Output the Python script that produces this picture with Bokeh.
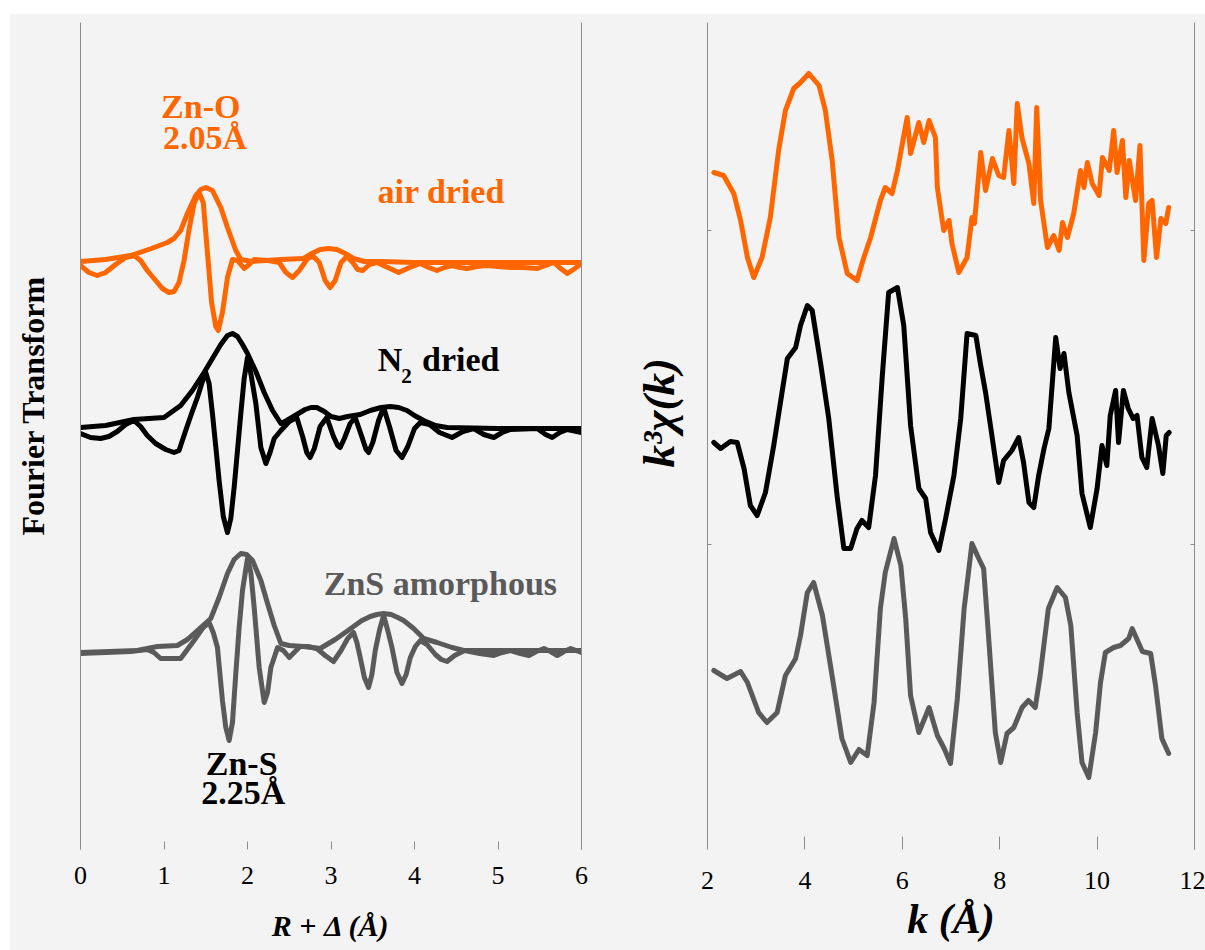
import numpy as np
from bokeh.plotting import figure
from bokeh.layouts import row
from bokeh.models import Range1d, FixedTicker, LinearAxis, CustomJSTickFormatter, Title
from bokeh.core.properties import value
from bokeh.embed import file_html
from bokeh.resources import INLINE

# ---------------- data: Fourier transforms (left panel) ----------------
# R + delta (Angstrom); magnitude and imaginary part, arbitrary units
air_mag_R = [0.0, 0.3, 0.6, 0.85, 1.04, 1.12, 1.2, 1.28, 1.38, 1.44, 1.50, 1.58, 1.68, 1.76,
             1.86, 1.92, 2.05, 2.4, 2.67, 2.77, 2.87, 2.97, 3.07, 3.17, 3.27, 3.4, 3.6, 4.0,
             5.0, 6.0]
air_mag = [0.01, 0.03, 0.07, 0.14, 0.20, 0.24, 0.32, 0.49, 0.67, 0.73, 0.75, 0.72, 0.55, 0.35,
           0.12, 0.03, 0.01, 0.03, 0.04, 0.09, 0.13, 0.14, 0.13, 0.09, 0.04, 0.01, 0.01, 0.0,
           0.0, 0.0]
air_im_R = [0.0, 0.1, 0.2, 0.3, 0.42, 0.54, 0.64, 0.72, 0.80, 0.90, 0.98, 1.06, 1.12, 1.18,
            1.24, 1.30, 1.36, 1.42, 1.47, 1.52, 1.57, 1.62, 1.65, 1.70, 1.76, 1.82, 1.88, 1.96,
            2.02, 2.08, 2.25, 2.38, 2.46, 2.54, 2.62, 2.72, 2.79, 2.86, 2.93, 2.99, 3.05, 3.12,
            3.19, 3.26, 3.32, 3.38, 3.46, 3.55, 3.68, 3.81, 3.94, 4.07, 4.17, 4.27, 4.36, 4.45,
            4.55, 4.63, 4.75, 4.87, 5.0, 5.15, 5.30, 5.47, 5.57, 5.67, 5.75, 5.83, 5.92, 6.0]
air_im = [-0.03, -0.10, -0.13, -0.10, -0.02, 0.05, 0.07, 0.02, -0.08, -0.18, -0.26, -0.30,
          -0.29, -0.20, 0.02, 0.33, 0.59, 0.70, 0.60, 0.10, -0.40, -0.64, -0.68, -0.50, -0.15,
          0.03, 0.02, -0.06, -0.02, 0.03, 0.02, 0.0, -0.10, -0.15, -0.08, 0.04, 0.06, 0.0,
          -0.18, -0.25, -0.18, 0.0, 0.06, 0.0, -0.07, -0.08, -0.02, 0.0, -0.05, -0.10, -0.05,
          -0.01, -0.05, -0.08, -0.05, -0.03, -0.05, -0.06, -0.04, -0.03, -0.04, -0.05, -0.05,
          -0.06, -0.03, 0.0, -0.06, -0.11, -0.06, -0.01]

n2_mag_R = [0.0, 0.3, 0.64, 1.0, 1.2, 1.34, 1.48, 1.58, 1.68, 1.76, 1.82, 1.88, 1.94, 2.0, 2.1,
            2.2, 2.3, 2.4, 2.47, 2.55, 2.69, 2.76, 2.83, 2.92, 3.0, 3.1, 3.2, 3.35, 3.47, 3.6,
            3.71, 3.81, 3.91, 4.0, 4.11, 4.25, 4.39, 5.0, 6.0]
n2_mag = [0.01, 0.03, 0.09, 0.11, 0.23, 0.38, 0.56, 0.70, 0.84, 0.93, 0.95, 0.92, 0.84, 0.75,
          0.57, 0.36, 0.18, 0.05, 0.08, 0.12, 0.19, 0.21, 0.21, 0.17, 0.12, 0.10, 0.12, 0.14,
          0.18, 0.21, 0.22, 0.21, 0.18, 0.13, 0.08, 0.03, 0.01, 0.0, 0.0]
n2_im_R = [0.0, 0.12, 0.24, 0.34, 0.44, 0.54, 0.64, 0.72, 0.80, 0.90, 1.02, 1.12, 1.18, 1.26,
           1.33, 1.40, 1.46, 1.50, 1.54, 1.58, 1.62, 1.66, 1.71, 1.76, 1.80, 1.84, 1.88, 1.92,
           1.96, 2.00, 2.04, 2.10, 2.16, 2.22, 2.27, 2.32, 2.40, 2.50, 2.59, 2.66, 2.71, 2.75,
           2.80, 2.87, 2.95, 3.03, 3.08, 3.11, 3.16, 3.23, 3.29, 3.36, 3.42, 3.45, 3.50, 3.57,
           3.63, 3.70, 3.78, 3.85, 3.92, 4.00, 4.07, 4.18, 4.30, 4.45, 4.58, 4.71, 4.83, 4.95,
           5.05, 5.15, 5.47, 5.57, 5.65, 5.74, 5.83, 6.0]
n2_im = [-0.05, -0.09, -0.10, -0.08, -0.03, 0.04, 0.08, 0.02, -0.07, -0.15, -0.21, -0.24,
         -0.22, -0.02, 0.15, 0.31, 0.47, 0.56, 0.45, 0.15, -0.18, -0.52, -0.88, -1.04, -0.90,
         -0.59, -0.22, 0.15, 0.50, 0.71, 0.55, 0.25, -0.19, -0.35, -0.24, -0.10, -0.02, 0.07,
         0.11, -0.08, -0.24, -0.29, -0.20, 0.02, 0.11, -0.08, -0.17, -0.19, -0.10, 0.05, 0.11,
         -0.06, -0.21, -0.24, -0.14, 0.08, 0.21, 0.02, -0.22, -0.29, -0.18, 0.0, 0.06, 0.04,
         -0.04, -0.09, -0.03, 0.0, -0.06, -0.09, -0.04, -0.01, 0.0, -0.06, -0.09, -0.04, -0.01,
         -0.04]

zns_mag_R = [0.0, 0.68, 0.92, 1.16, 1.28, 1.40, 1.56, 1.66, 1.76, 1.84, 1.92, 1.99, 2.06, 2.16,
             2.24, 2.32, 2.40, 2.5, 2.67, 2.87, 3.05, 3.17, 3.27, 3.37, 3.47, 3.55, 3.63, 3.72,
             3.80, 3.87, 3.99, 4.11, 4.27, 4.45, 4.59, 5.0, 6.0]
zns_mag = [0.0, 0.02, 0.06, 0.07, 0.13, 0.22, 0.34, 0.55, 0.79, 0.93, 0.99, 0.98, 0.92, 0.72,
           0.49, 0.27, 0.09, 0.07, 0.06, 0.04, 0.13, 0.20, 0.26, 0.32, 0.36, 0.38, 0.39, 0.38,
           0.35, 0.32, 0.24, 0.14, 0.10, 0.05, 0.02, 0.02, 0.02]
zns_im_R = [0.0, 0.6, 0.8, 0.88, 0.96, 1.10, 1.20, 1.28, 1.36, 1.46, 1.54, 1.59, 1.64, 1.70,
            1.74, 1.78, 1.82, 1.86, 1.90, 1.94, 2.0, 2.04, 2.08, 2.14, 2.20, 2.24, 2.28, 2.36,
            2.43, 2.50, 2.57, 2.63, 2.72, 2.83, 2.93, 3.03, 3.12, 3.20, 3.27, 3.31, 3.35, 3.40,
            3.45, 3.49, 3.53, 3.58, 3.63, 3.68, 3.73, 3.79, 3.85, 3.90, 3.95, 4.01, 4.07, 4.15,
            4.25, 4.32, 4.39, 4.48, 4.60, 4.78, 4.95, 5.05, 5.15, 5.27, 5.37, 5.46, 5.55, 5.63,
            5.71, 5.79, 5.87, 6.0]
zns_im = [-0.01, 0.01, 0.03, 0.0, -0.06, -0.06, -0.06, 0.03, 0.12, 0.24, 0.30, 0.20, 0.05,
          -0.48, -0.75, -0.88, -0.70, -0.21, 0.25, 0.62, 0.94, 0.80, 0.45, -0.15, -0.50, -0.40,
          -0.15, 0.05, 0.02, -0.05, 0.01, 0.06, 0.06, 0.04, -0.03, -0.09, 0.02, 0.14, 0.20,
          0.10, -0.05, -0.25, -0.35, -0.22, 0.02, 0.22, 0.37, 0.22, 0.05, -0.20, -0.31, -0.22,
          -0.05, 0.06, 0.12, 0.08, -0.02, -0.07, -0.09, -0.03, 0.02, -0.01, -0.03, 0.0, 0.02,
          -0.01, -0.03, 0.01, 0.04, 0.01, -0.03, 0.01, 0.04, 0.0]

# ---------------- data: k^3 chi(k) (right panel) ----------------
orange_k = [2.13, 2.33, 2.54, 2.68, 2.82, 2.95, 3.12, 3.29, 3.46, 3.60, 3.77, 3.91, 4.08, 4.29,
            4.42, 4.56, 4.70, 4.87, 5.07, 5.21, 5.35, 5.55, 5.65, 5.79, 5.90, 6.10, 6.17, 6.34,
            6.44, 6.55, 6.68, 6.72, 6.85, 6.96, 7.02, 7.16, 7.33, 7.43, 7.48, 7.61, 7.71, 7.85,
            7.98, 8.08, 8.19, 8.29, 8.36, 8.46, 8.60, 8.70, 8.76, 8.84, 8.98, 9.11, 9.22, 9.29,
            9.39, 9.52, 9.66, 9.73, 9.80, 9.90, 10.04, 10.11, 10.25, 10.34, 10.41, 10.52, 10.59,
            10.66, 10.79, 10.88, 10.96, 11.06, 11.13, 11.22, 11.31, 11.41, 11.47]
orange_chi = [0.28, 0.25, 0.07, -0.20, -0.57, -0.77, -0.57, -0.17, 0.50, 0.90, 1.12, 1.18, 1.27,
              1.15, 0.90, 0.40, -0.37, -0.73, -0.80, -0.57, -0.37, 0.00, 0.13, 0.07, 0.30, 0.83,
              0.47, 0.78, 0.58, 0.80, 0.63, 0.13, -0.30, -0.20, -0.43, -0.72, -0.57, -0.17,
              -0.23, 0.48, 0.10, 0.42, 0.25, 0.23, 0.70, 0.17, 0.97, 0.62, 0.37, -0.03, 0.93,
              0.00, -0.47, -0.35, -0.50, -0.22, -0.37, -0.13, 0.30, 0.13, 0.38, 0.17, 0.05, 0.43,
              0.30, 0.70, 0.28, 0.60, 0.03, 0.40, 0.00, 0.55, -0.60, -0.03, 0.00, -0.57, -0.18,
              -0.23, -0.07]

black_k = [2.13, 2.27, 2.47, 2.61, 2.75, 2.88, 3.02, 3.19, 3.36, 3.53, 3.64, 3.81, 3.91, 4.05,
           4.15, 4.32, 4.49, 4.66, 4.80, 4.94, 5.07, 5.17, 5.31, 5.45, 5.59, 5.72, 5.90, 6.03,
           6.17, 6.34, 6.48, 6.58, 6.75, 6.89, 7.06, 7.20, 7.33, 7.51, 7.61, 7.71, 7.81, 7.98,
           8.08, 8.25, 8.39, 8.49, 8.60, 8.70, 8.80, 8.91, 9.01, 9.15, 9.24, 9.32, 9.42, 9.59,
           9.69, 9.86, 10.00, 10.10, 10.20, 10.27, 10.38, 10.44, 10.54, 10.64, 10.74, 10.82,
           10.92, 11.02, 11.13, 11.26, 11.35, 11.42, 11.48]
black_chi = [-0.12, -0.18, -0.11, -0.12, -0.38, -0.75, -0.85, -0.62, -0.15, 0.38, 0.72, 0.83,
             1.05, 1.25, 1.20, 0.68, 0.12, -0.65, -1.18, -1.18, -0.98, -0.90, -0.97, -0.45,
             0.55, 1.38, 1.43, 1.05, 0.05, -0.58, -0.68, -1.02, -1.20, -0.88, -0.45, 0.12, 0.97,
             0.95, 0.65, 0.38, 0.05, -0.52, -0.30, -0.20, -0.07, -0.32, -0.72, -0.77, -0.45,
             -0.18, 0.02, 0.93, 0.62, 0.77, 0.38, -0.05, -0.63, -0.97, -0.58, -0.15, -0.35,
             0.15, 0.40, -0.12, 0.40, 0.22, 0.12, 0.15, -0.27, -0.37, 0.12, -0.15, -0.43,
             -0.05, -0.02]

gray_k = [2.13, 2.40, 2.68, 2.82, 3.05, 3.22, 3.43, 3.60, 3.81, 3.91, 4.05, 4.18, 4.36, 4.59,
          4.76, 4.94, 5.11, 5.28, 5.42, 5.55, 5.65, 5.83, 5.97, 6.07, 6.17, 6.34, 6.55, 6.72,
          6.86, 6.99, 7.13, 7.27, 7.43, 7.57, 7.67, 7.78, 7.91, 8.02, 8.15, 8.29, 8.46, 8.59,
          8.73, 8.83, 9.00, 9.18, 9.35, 9.46, 9.59, 9.69, 9.83, 9.97, 10.07, 10.17, 10.34,
          10.48, 10.65, 10.72, 10.93, 11.10, 11.20, 11.33, 11.47]
gray_chi = [0.10, 0.02, 0.09, -0.02, -0.32, -0.42, -0.32, 0.05, 0.22, 0.45, 0.88, 0.98, 0.65,
            -0.05, -0.58, -0.82, -0.69, -0.75, -0.22, 0.72, 1.08, 1.42, 1.15, 0.62, -0.15,
            -0.52, -0.27, -0.55, -0.68, -0.83, -0.18, 0.72, 1.37, 1.22, 1.12, 0.38, -0.52,
            -0.82, -0.53, -0.47, -0.27, -0.20, -0.27, 0.05, 0.72, 0.93, 0.83, 0.55, -0.32,
            -0.82, -0.97, -0.52, -0.02, 0.28, 0.33, 0.35, 0.42, 0.52, 0.29, 0.27, -0.05,
            -0.58, -0.73]

# tick labels
r_ticks = [0, 1, 2, 3, 4, 5, 6]
k_ticks = [2, 4, 6, 8, 10, 12]

# vertical stacking offsets of the curves
air_offset, n2_offset, zns_offset = 5.83, 4.17, 1.93
orange_offset, black_offset, gray_offset = 6.57, 4.27, 1.77

ORANGE = "#ff6600"
BLACK = "#000000"
GRAY = "#5a5a5a"
BG = "#f3f3f3"
AXIS = "#8c8c8c"
SERIF = "Liberation Serif"
LW = 5


def base_figure(width, height, xr, yr, bl, br):
    p = figure(width=width, height=height, x_range=Range1d(*xr), y_range=Range1d(*yr),
               output_backend="svg", toolbar_location=None,
               min_border_left=bl, min_border_right=br, min_border_top=8, min_border_bottom=101)
    p.background_fill_color = BG
    p.border_fill_color = BG
    p.outline_line_color = None
    p.xgrid.visible = False
    p.ygrid.visible = False
    return p


def style_x(ax, ticks, tick_in, standoff, label, label_size, label_standoff):
    ax.ticker = FixedTicker(ticks=ticks)
    ax.axis_line_color = None
    ax.major_tick_in = tick_in
    ax.major_tick_out = 0
    ax.major_tick_line_color = AXIS
    ax.minor_tick_line_color = None
    ax.major_label_text_font = SERIF
    ax.major_label_text_font_size = "26px"
    ax.major_label_text_color = BLACK
    ax.major_label_standoff = standoff
    ax.axis_label = label
    ax.axis_label_text_font = SERIF
    ax.axis_label_text_font_style = "bold italic"
    ax.axis_label_text_font_size = label_size
    ax.axis_label_text_color = BLACK
    ax.axis_label_standoff = label_standoff


def frame_axis(ticks, tick_in):
    return LinearAxis(ticker=FixedTicker(ticks=ticks),
                      formatter=CustomJSTickFormatter(code="return ''"),
                      axis_line_color=AXIS, major_tick_in=tick_in, major_tick_out=0,
                      major_tick_line_color=AXIS, minor_tick_line_color=None,
                      major_label_standoff=0)


def gap_axis(tick, gap):
    # invisible axis, only used to leave room between the frame and the side title
    return LinearAxis(ticker=FixedTicker(ticks=[tick]),
                      formatter=CustomJSTickFormatter(code="return ''"),
                      axis_line_color=None, major_tick_in=0, major_tick_out=gap,
                      major_tick_line_color=None, minor_tick_line_color=None,
                      major_label_standoff=0)


def side_title(p, text, size, style, offset):
    p.add_layout(Title(text=text, align="left", vertical_align="top", standoff=0,
                       offset=offset, text_font=SERIF, text_font_size=size,
                       text_font_style=style, text_color=BLACK), "left")


# ---------------- left panel ----------------
p1 = base_figure(610, 936, (0, 6), (-0.04, 8.23), 70, 39)
for R, v, off, col in [(air_mag_R, air_mag, air_offset, ORANGE), (air_im_R, air_im, air_offset, ORANGE),
                       (n2_mag_R, n2_mag, n2_offset, BLACK), (n2_im_R, n2_im, n2_offset, BLACK),
                       (zns_mag_R, zns_mag, zns_offset, GRAY), (zns_im_R, zns_im, zns_offset, GRAY)]:
    p1.line(R, np.array(v) + off, line_color=col, line_width=LW, line_join="round", line_cap="round")

style_x(p1.xaxis[0], r_ticks, 8, 17, "R + Δ (Å)", "30px", 22)
p1.yaxis[0].visible = False
p1.add_layout(frame_axis([], 0), "left")
p1.add_layout(gap_axis(4.0, 28), "left")
p1.add_layout(frame_axis([], 0), "right")
side_title(p1, "Fourier Transform", "32px", "bold", 314)

# annotations of the left panel
lab_text = ["Zn-O", "2.05Å", "air dried", "ZnS amorphous", "Zn-S", "2.25Å"]
lab_x = [1.44, 1.49, 4.32, 4.31, 1.93, 1.95]
lab_y = [7.39, 7.08, 6.54, 2.62, 0.82, 0.53]
lab_col = [ORANGE, ORANGE, ORANGE, GRAY, BLACK, BLACK]
p1.text(x=lab_x, y=lab_y, text=lab_text, text_color=lab_col, text_font=value(SERIF),
        text_font_style="bold", text_font_size="34px", text_align="center",
        text_baseline="middle")
# "N2 dried" with subscript
p1.text(x=[3.56, 4.09], y=[4.86, 4.86], text=["N", "dried"], text_color=BLACK,
        text_font=value(SERIF), text_font_style="bold", text_font_size="34px",
        text_align="left", text_baseline="middle")
p1.text(x=[3.84], y=[4.70], text=["2"], text_color=BLACK, text_font=value(SERIF),
        text_font_style="bold", text_font_size="21px", text_align="left",
        text_baseline="middle")

# ---------------- right panel ----------------
p2 = base_figure(585, 936, (2, 12), (0.08, 8.35), 87, 11)
for k, v, off, col in [(orange_k, orange_chi, orange_offset, ORANGE),
                       (black_k, black_chi, black_offset, BLACK),
                       (gray_k, gray_chi, gray_offset, GRAY)]:
    p2.line(k, np.array(v) + off, line_color=col, line_width=LW, line_join="round", line_cap="round")

style_x(p2.xaxis[0], k_ticks, 13, 22, "k (Å)", "42px", 4)
p2.yaxis[0].visible = False
p2.add_layout(frame_axis([3.135, 6.27], 4), "left")
p2.add_layout(gap_axis(4.0, 22), "left")
p2.add_layout(frame_axis([3.135, 6.27], 4), "right")
side_title(p2, "k³χ(k)", "45px", "bold italic", 382)

layout = row(p1, p2, spacing=0, margin=(14, 0, 0, 10), styles={"background-color": BG})
open("out.html", "w").write(file_html(layout, INLINE))
